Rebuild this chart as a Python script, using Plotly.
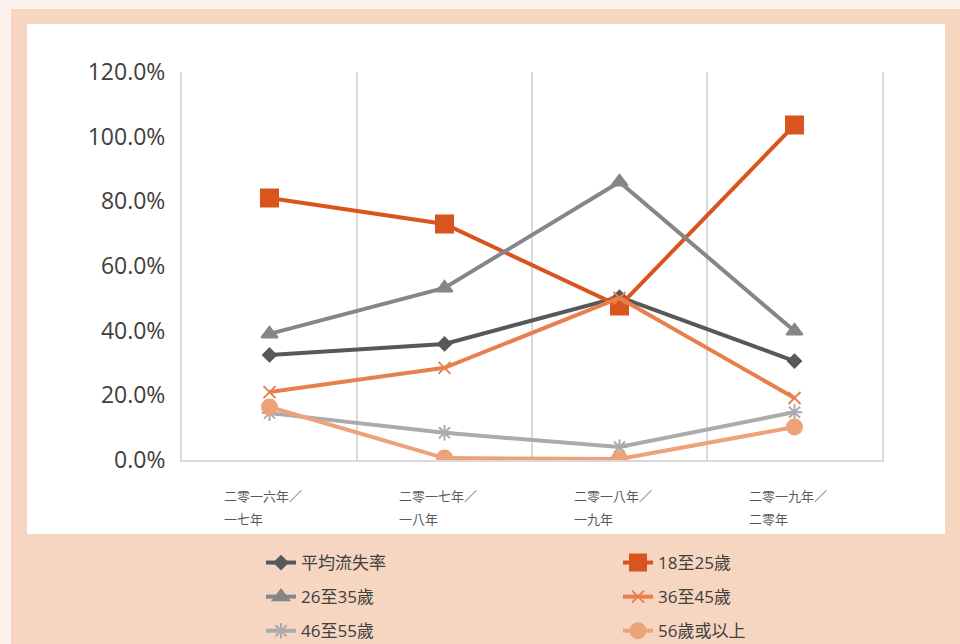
import plotly.graph_objects as go

categories = ["二零一六年／一七年", "二零一七年／一八年", "二零一八年／一九年", "二零一九年／二零年"]
label_line1 = ["二零一六年／", "二零一七年／", "二零一八年／", "二零一九年／"]
label_line2 = ["一七年", "一八年", "一九年", "二零年"]

series_names = ["平均流失率", "18至25歲", "26至35歲", "36至45歲", "46至55歲", "56歲或以上"]
avg_rate = [0.325, 0.359, 0.504, 0.306]
age_18_25 = [0.810, 0.730, 0.476, 1.036]
age_26_35 = [0.390, 0.532, 0.860, 0.399]
age_36_45 = [0.210, 0.285, 0.501, 0.192]
age_46_55 = [0.145, 0.084, 0.040, 0.148]
age_56_up = [0.164, 0.006, 0.003, 0.102]
series_values = [avg_rate, age_18_25, age_26_35, age_36_45, age_46_55, age_56_up]

colors = ["#58585a", "#d9541e", "#86868a", "#e8804e", "#ababae", "#eda27a"]
symbols = ["diamond", "square", "triangle-up", "x-thin", "asterisk", "circle"]
sizes = [10, 17, 14, 12, 13, 15]
legend_ids = ["legend", "legend2", "legend", "legend2", "legend", "legend2"]

W, H = 960, 644
L, R, T, B = 182, 78, 72, 184
PW, PH = W - L - R, H - T - B

def px_x(p):
    return (p - L) / PW

def px_y(p):
    return 1 - (p - T) / PH

fig = go.Figure()
for i, (name, vals) in enumerate(zip(series_names, series_values)):
    fig.add_trace(go.Scatter(
        x=categories, y=vals, name=name, mode="lines+markers",
        line=dict(color=colors[i], width=4),
        marker=dict(symbol=symbols[i], size=sizes[i], color=colors[i],
                    line=dict(color=colors[i], width=2)),
        legend=legend_ids[i], legendgroup=name,
    ))

shapes = [
    dict(type="rect", xref="paper", yref="paper", layer="below",
         x0=px_x(11), x1=px_x(960), y0=px_y(644), y1=px_y(9),
         fillcolor="#f6d5c1", line=dict(width=0)),
    dict(type="rect", xref="paper", yref="paper", layer="below",
         x0=px_x(27), x1=px_x(945), y0=px_y(534), y1=px_y(24),
         fillcolor="#ffffff", line=dict(width=0)),
]

annotations = []
for c, l1, l2 in zip(categories, label_line1, label_line2):
    for txt, yy in ((l1, 496), (l2, 518)):
        annotations.append(dict(
            x=c, xref="x", y=px_y(yy), yref="paper", text=txt,
            showarrow=False, xanchor="left", yanchor="middle", xshift=-48,
            font=dict(size=13, color="#595959", family="Noto Sans CJK TC"),
        ))

legend_font = dict(size=17, color="#404040", family="Open Sans, Noto Sans CJK TC")
fig.update_layout(
    width=W, height=H,
    margin=dict(l=L, r=R, t=T, b=B, autoexpand=False),
    paper_bgcolor="#fdf3ec", plot_bgcolor="rgba(0,0,0,0)",
    font=dict(family="Open Sans, Noto Sans CJK TC", color="#404040"),
    shapes=shapes, annotations=annotations,
    legend=dict(xref="paper", yref="paper", x=px_x(261), y=px_y(545),
                xanchor="left", yanchor="top", orientation="v",
                bgcolor="rgba(0,0,0,0)", font=legend_font, tracegroupgap=9),
    legend2=dict(xref="paper", yref="paper", x=px_x(618), y=px_y(545),
                 xanchor="left", yanchor="top", orientation="v",
                 bgcolor="rgba(0,0,0,0)", font=legend_font, tracegroupgap=9),
    xaxis=dict(type="category", range=[-0.5, 3.5], showticklabels=False,
               tickson="boundaries", showgrid=True, gridcolor="#d9d9d9", gridwidth=2,
               showline=True, linecolor="#d9d9d9", linewidth=2, ticks="",
               zeroline=False, fixedrange=True),
    yaxis=dict(range=[0, 1.2], dtick=0.2, tickformat=".1%", showgrid=False,
               showline=True, mirror=True, linecolor="#d9d9d9", linewidth=2, ticks="",
               zeroline=False, ticklabelstandoff=10,
               tickfont=dict(size=23, color="#404040", family="Open Sans")),
)

fig.write_html("out.html", config={"displayModeBar": False},
               post_script="document.body.style.margin='0';")
